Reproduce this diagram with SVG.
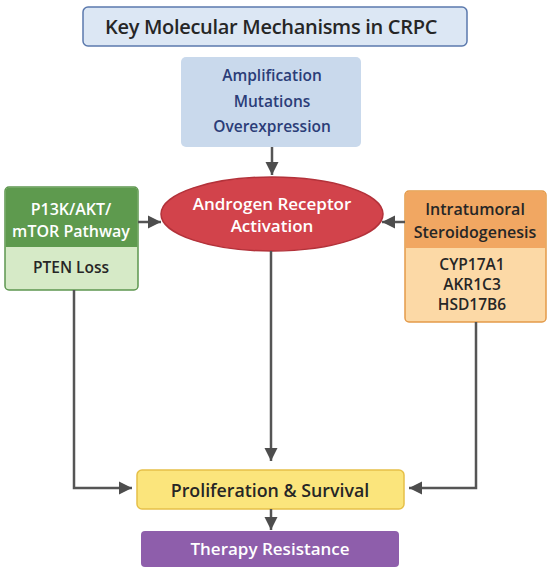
<svg xmlns="http://www.w3.org/2000/svg" width="550" height="574" viewBox="0 0 550 574">
<defs>
<marker id="arr" markerUnits="userSpaceOnUse" markerWidth="14" markerHeight="14" viewBox="0 0 14 14" refX="13" refY="7" orient="auto">
<path d="M0,0.5 L13,7 L0,13.5 Z" fill="#4d4d4d"/>
</marker>
<style>
text{font-family:"Open Sans","Liberation Sans",sans-serif;font-weight:600;text-anchor:middle}
.con{fill:none;stroke:#555;stroke-width:2.5;marker-end:url(#arr)}
.dark{fill:#262626}
.white{fill:#ffffff}
</style>
</defs>
<rect width="550" height="574" fill="#ffffff"/>
<g id="title">
<rect x="83" y="7" width="384" height="39" rx="5" fill="#dce7f4" stroke="#5b79ad" stroke-width="1.5"/>
<text x="271" y="34" font-size="20" letter-spacing="-0.3" class="dark">Key Molecular Mechanisms in CRPC</text>
</g>
<g id="ar-alterations">
<rect x="181" y="57" width="180" height="90" rx="5" fill="#c9d9ec"/>
<text x="272" y="81" font-size="15.5" fill="#2b3d78">Amplification</text>
<text x="272" y="107" font-size="15.5" fill="#2b3d78">Mutations</text>
<text x="272" y="132" font-size="15.5" fill="#2b3d78">Overexpression</text>
</g>
<g id="ar-activation">
<ellipse cx="272" cy="214" rx="111" ry="37" fill="#d2434b" stroke="#b3323a" stroke-width="1.5"/>
<text x="272" y="210" font-size="17" class="white">Androgen Receptor</text>
<text x="272" y="232" font-size="17" class="white">Activation</text>
</g>
<g id="pi3k">
<rect x="5" y="187" width="133" height="103" rx="4" fill="#d6eac7" stroke="#5e9650" stroke-width="1.5"/>
<path d="M5.75,247 V191 a3.25,3.25 0 0 1 3.25,-3.25 H134 a3.25,3.25 0 0 1 3.25,3.25 V247 Z" fill="#5e9a4e"/>
<text x="71" y="215" font-size="16" class="white">P13K/AKT/</text>
<text x="71" y="237" font-size="16" class="white">mTOR Pathway</text>
<text x="71" y="273" font-size="15.5" class="dark">PTEN Loss</text>
</g>
<g id="steroidogenesis">
<rect x="405" y="191" width="141" height="131" rx="4" fill="#fcd9a6" stroke="#e39a4a" stroke-width="1.5"/>
<path d="M405.75,248 V195 a3.25,3.25 0 0 1 3.25,-3.25 H542 a3.25,3.25 0 0 1 3.25,3.25 V248 Z" fill="#f1a762"/>
<text x="475" y="215" font-size="16" class="dark">Intratumoral</text>
<text x="475" y="238" font-size="16" class="dark">Steroidogenesis</text>
<text x="472" y="270" font-size="15.5" class="dark">CYP17A1</text>
<text x="472" y="290" font-size="15.5" class="dark">AKR1C3</text>
<text x="472" y="310" font-size="15.5" class="dark">HSD17B6</text>
</g>
<g id="proliferation">
<rect x="137" y="470" width="267" height="39" rx="5" fill="#fbe57c" stroke="#e6c048" stroke-width="1.5"/>
<text x="270" y="497" font-size="17.8" class="dark">Proliferation &amp; Survival</text>
</g>
<g id="resistance">
<rect x="141" y="531" width="258" height="36" rx="4" fill="#8e5eab"/>
<text x="270" y="555" font-size="17" class="white">Therapy Resistance</text>
</g>
<g id="connectors">
<line class="con" x1="272" y1="147" x2="272" y2="175"/>
<line class="con" x1="138" y1="222" x2="161" y2="222"/>
<line class="con" x1="405" y1="222" x2="382" y2="222"/>
<line class="con" x1="271" y1="251" x2="271" y2="461"/>
<polyline class="con" points="74,290 74,488 132,488"/>
<polyline class="con" points="476,322 476,488 409,488"/>
<line class="con" x1="271" y1="509" x2="271" y2="530"/>
</g>
</svg>
